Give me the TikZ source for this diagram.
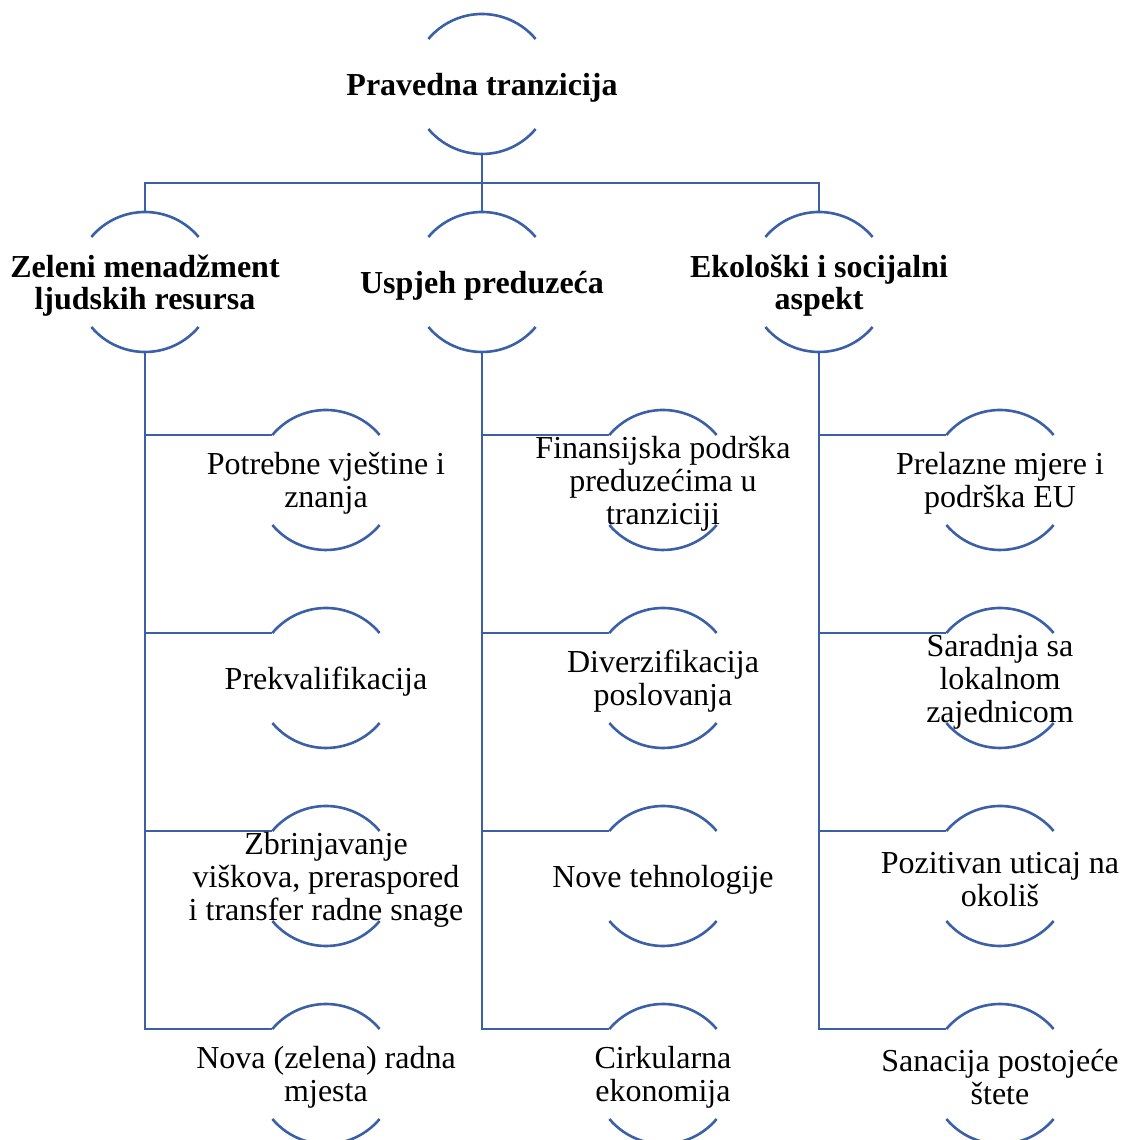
\documentclass[tikz,border=0pt]{standalone}
\usepackage{fontspec}
\setmainfont{Liberation Serif}
\definecolor{lineblue}{RGB}{60,96,168}
\begin{document}
\begin{tikzpicture}[x=1pt,y=1pt,
  ring/.style={circle,minimum size=140pt,inner sep=0pt,outer sep=0pt},
  arcline/.style={draw=lineblue,line width=2.6pt},
  conn/.style={draw=lineblue,line width=2.6pt},
  head/.style={align=center,font=\fontsize{32}{32}\selectfont\bfseries,text=black,inner sep=0pt,yshift=-3.5pt},
  leaf/.style={align=center,font=\fontsize{32}{33}\selectfont,text=black,inner sep=0pt,yshift=-3.5pt}]
\useasboundingbox (0,0) rectangle (1122,1140);
% ring nodes
\node[ring] (r) at (482,1056) {};
\node[ring] (a) at (145,858) {};
\node[ring] (b) at (482,858) {};
\node[ring] (c) at (819,858) {};
\node[ring] (a1) at (326,660) {};
\node[ring] (a2) at (326,462) {};
\node[ring] (a3) at (326,264) {};
\node[ring] (a4) at (326,66) {};
\node[ring] (b1) at (663,660) {};
\node[ring] (b2) at (663,462) {};
\node[ring] (b3) at (663,264) {};
\node[ring] (b4) at (663,66) {};
\node[ring] (c1) at (1000,660) {};
\node[ring] (c2) at (1000,462) {};
\node[ring] (c3) at (1000,264) {};
\node[ring] (c4) at (1000,66) {};
% arcs
\foreach \n in {r,a,b,c,a1,a2,a3,a4,b1,b2,b3,b4,c1,c2,c3,c4}{
  \draw[arcline] (\n.40) arc[start angle=40,end angle=140,radius=70pt];
  \draw[arcline] (\n.220) arc[start angle=220,end angle=320,radius=70pt];
}
% connectors
\coordinate (bus) at (482,957);
\draw[conn] (r.south) -- (b.north);
\draw[conn] (a.north) |- (bus) -| (c.north);
\foreach \p in {a,b,c}{
  \foreach \i in {1,2,3,4}{
    \draw[conn] (\p.south) |- (\p\i.140);
  }
}
% texts
\node[head] (rt) at (r.center) {Pravedna tranzicija};
\node[head] (at) at (a.center) {Zeleni menadžment\\ljudskih resursa};
\node[head] (bt) at (b.center) {Uspjeh preduzeća};
\node[head] (ct) at (c.center) {Ekološki i socijalni\\aspekt};
\node[leaf] (a1t) at (a1.center) {Potrebne vještine i\\znanja};
\node[leaf] (a2t) at (a2.center) {Prekvalifikacija};
\node[leaf] (a3t) at (a3.center) {Zbrinjavanje\\viškova, preraspored\\i transfer radne snage};
\node[leaf] (a4t) at (a4.center) {Nova (zelena) radna\\mjesta};
\node[leaf] (b1t) at (b1.center) {Finansijska podrška\\preduzećima u\\tranziciji};
\node[leaf] (b2t) at (b2.center) {Diverzifikacija\\poslovanja};
\node[leaf] (b3t) at (b3.center) {Nove tehnologije};
\node[leaf] (b4t) at (b4.center) {Cirkularna\\ekonomija};
\node[leaf] (c1t) at (c1.center) {Prelazne mjere i\\podrška EU};
\node[leaf] (c2t) at (c2.center) {Saradnja sa\\lokalnom\\zajednicom};
\node[leaf] (c3t) at (c3.center) {Pozitivan uticaj na\\okoliš};
\node[leaf] (c4t) at (c4.center) {Sanacija postojeće\\štete};
\end{tikzpicture}
\end{document}
